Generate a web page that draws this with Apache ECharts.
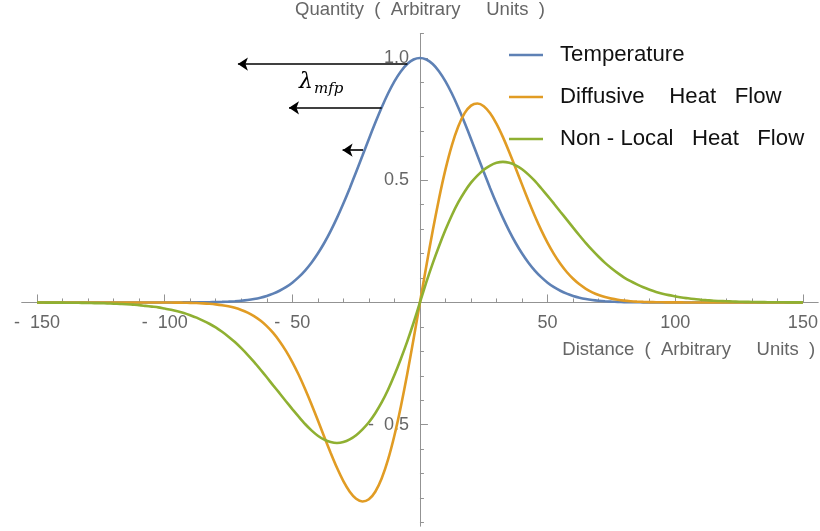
<!DOCTYPE html>
<html>
<head>
<meta charset="utf-8">
<script src="https://cdn.jsdelivr.net/npm/echarts@6/dist/echarts.min.js"></script>
<style>
  html, body { margin: 0; padding: 0; background: #fff; }
  #chart { width: 820px; height: 531px; }
</style>
</head>
<body>
<div id="chart"></div>
<script>
// Sample positions along the distance axis (step 2.5)
const distance = [
  -150, -147.5, -145, -142.5, -140, -137.5, -135, -132.5, -130, -127.5,
  -125, -122.5, -120, -117.5, -115, -112.5, -110, -107.5, -105, -102.5,
  -100, -97.5, -95, -92.5, -90, -87.5, -85, -82.5, -80, -77.5,
  -75, -72.5, -70, -67.5, -65, -62.5, -60, -57.5, -55, -52.5,
  -50, -47.5, -45, -42.5, -40, -37.5, -35, -32.5, -30, -27.5,
  -25, -22.5, -20, -17.5, -15, -12.5, -10, -7.5, -5, -2.5,
  0,
  2.5, 5, 7.5, 10, 12.5, 15, 17.5, 20, 22.5, 25,
  27.5, 30, 32.5, 35, 37.5, 40, 42.5, 45, 47.5, 50,
  52.5, 55, 57.5, 60, 62.5, 65, 67.5, 70, 72.5, 75,
  77.5, 80, 82.5, 85, 87.5, 90, 92.5, 95, 97.5, 100,
  102.5, 105, 107.5, 110, 112.5, 115, 117.5, 120, 122.5, 125,
  127.5, 130, 132.5, 135, 137.5, 140, 142.5, 145, 147.5, 150
];

// Temperature profile
const temperature = [
  0, 0, 0, 0, 0, 0, 0, 0, 0, 0,
  0, 0, 0, 0, 0, 0, 0, 0, 0, 0,
  0, 0.0001, 0.0001, 0.0002, 0.0003, 0.0005, 0.0007, 0.0011, 0.0016, 0.0024,
  0.0035, 0.0051, 0.0073, 0.0103, 0.0143, 0.0197, 0.0268, 0.036, 0.0478, 0.0626,
  0.081, 0.1035, 0.1306, 0.1627, 0.2002, 0.2432, 0.2918, 0.3458, 0.4046, 0.4675,
  0.5335, 0.6011, 0.6689, 0.735, 0.7975, 0.8546, 0.9044, 0.945, 0.9752, 0.9937,
  1.0,
  0.9937, 0.9752, 0.945, 0.9044, 0.8546, 0.7975, 0.735, 0.6689, 0.6011, 0.5335,
  0.4675, 0.4046, 0.3458, 0.2918, 0.2432, 0.2002, 0.1627, 0.1306, 0.1035, 0.081,
  0.0626, 0.0478, 0.036, 0.0268, 0.0197, 0.0143, 0.0103, 0.0073, 0.0051, 0.0035,
  0.0024, 0.0016, 0.0011, 0.0007, 0.0005, 0.0003, 0.0002, 0.0001, 0.0001, 0,
  0, 0, 0, 0, 0, 0, 0, 0, 0, 0,
  0, 0, 0, 0, 0, 0, 0, 0, 0, 0
];

// Local (diffusive) heat flow
const diffusiveFlow = [
  0, 0, 0, 0, 0, 0, 0, 0, 0, 0,
  0, 0, 0, 0, 0, 0, 0, 0, -0.0001, -0.0002,
  -0.0003, -0.0004, -0.0007, -0.001, -0.0016, -0.0024, -0.0036, -0.0053, -0.0077, -0.0111,
  -0.0158, -0.0221, -0.0305, -0.0416, -0.0559, -0.0741, -0.0968, -0.1245, -0.1582, -0.1977,
  -0.2437, -0.2958, -0.3537, -0.416, -0.4819, -0.5488, -0.6146, -0.6763, -0.7305, -0.7737,
  -0.8027, -0.8139, -0.8051, -0.7741, -0.7199, -0.6429, -0.5443, -0.4265, -0.2934, -0.1495,
  0,
  0.1495, 0.2934, 0.4265, 0.5443, 0.6429, 0.7199, 0.7741, 0.8051, 0.8139, 0.8027,
  0.7737, 0.7305, 0.6763, 0.6146, 0.5488, 0.4819, 0.416, 0.3537, 0.2958, 0.2437,
  0.1977, 0.1582, 0.1245, 0.0968, 0.0741, 0.0559, 0.0416, 0.0305, 0.0221, 0.0158,
  0.0111, 0.0077, 0.0053, 0.0036, 0.0024, 0.0016, 0.001, 0.0007, 0.0004, 0.0003,
  0.0002, 0.0001, 0, 0, 0, 0, 0, 0, 0, 0,
  0, 0, 0, 0, 0, 0, 0, 0, 0, 0
];

// Non-local heat flow
const nonLocalFlow = [
  -0.0003, -0.0004, -0.0005, -0.0006, -0.0008, -0.001, -0.0013, -0.0016, -0.002, -0.0025,
  -0.003, -0.004, -0.005, -0.006, -0.007, -0.009, -0.011, -0.014, -0.017, -0.02,
  -0.025, -0.03, -0.036, -0.043, -0.052, -0.062, -0.074, -0.087, -0.102, -0.12,
  -0.14, -0.162, -0.187, -0.214, -0.243, -0.274, -0.306, -0.339, -0.371, -0.404,
  -0.436, -0.467, -0.497, -0.523, -0.545, -0.561, -0.571, -0.575, -0.571, -0.56,
  -0.543, -0.519, -0.49, -0.453, -0.409, -0.357, -0.297, -0.231, -0.16, -0.083,
  0,
  0.083, 0.16, 0.231, 0.297, 0.357, 0.409, 0.453, 0.49, 0.519, 0.543,
  0.56, 0.571, 0.575, 0.571, 0.561, 0.545, 0.523, 0.497, 0.467, 0.436,
  0.404, 0.371, 0.339, 0.306, 0.274, 0.243, 0.214, 0.187, 0.162, 0.14,
  0.12, 0.102, 0.087, 0.074, 0.062, 0.052, 0.043, 0.036, 0.03, 0.025,
  0.02, 0.017, 0.014, 0.011, 0.009, 0.007, 0.006, 0.005, 0.004, 0.003,
  0.0025, 0.002, 0.0016, 0.0013, 0.001, 0.0008, 0.0006, 0.0005, 0.0004, 0.0003
];

const seriesNames = ['Temperature', 'Diffusive    Heat   Flow', 'Non - Local   Heat   Flow'];
const seriesColors = ['#5E81B5', '#E19C24', '#8FB032'];

// Axis ticks and labels
const xMajorTicks = [-150, -100, -50, 0, 50, 100, 150];
const xMinorTicks = [-140, -130, -120, -110, -90, -80, -70, -60, -40, -30, -20, -10,
                     10, 20, 30, 40, 60, 70, 80, 90, 110, 120, 130, 140];
const xTickLabels = [-150, -100, -50, 50, 100, 150];
const yMajorTicks = [-0.5, 0.5, 1.0];
const yMinorTicks = [-0.9, -0.8, -0.7, -0.6, -0.4, -0.3, -0.2, -0.1,
                     0.1, 0.2, 0.3, 0.4, 0.6, 0.7, 0.8, 0.9, 1.1];
const yTickLabels = [-0.5, 0.5, 1.0];

// Mean-free-path arrows: [height, start distance, end distance]
const mfpArrows = [
  [0.975, -4.9, -71.3],
  [0.796, -15.0, -51.3],
  [0.623, -22.3, -30.3]
];

const xRange = [-156, 156];
const yRange = [-0.915, 1.1];

// Plot box
const plot = { left: 21.7, top: 33.5, width: 796.5, height: 492.7 };
// Axes cross at the origin: shift each axis from the grid edge to zero
const zeroY = plot.top + plot.height * yRange[1] / (yRange[1] - yRange[0]);
const zeroX = plot.left + plot.width * (0 - xRange[0]) / (xRange[1] - xRange[0]);
const xAxisOffset = zeroY - (plot.top + plot.height);
const yAxisOffset = -(zeroX - plot.left);

const axisGray = '#939393';
const labelGray = '#666666';
const sansFont = '"Liberation Sans", Arial, sans-serif';

function signedLabel(v, digits) {
  const s = digits ? Math.abs(v).toFixed(digits) : String(Math.abs(v));
  return v < 0 ? '-  ' + s : s;
}

const chart = echarts.init(document.getElementById('chart'), null, { renderer: 'canvas' });

const lineSeries = [temperature, diffusiveFlow, nonLocalFlow].map(function (vals, i) {
  const s = {
    name: seriesNames[i],
    type: 'line',
    xAxisIndex: 0,
    yAxisIndex: 0,
    data: distance.map(function (x, k) { return [x, vals[k]]; }),
    smooth: 0.25,
    symbol: 'none',
    lineStyle: { color: seriesColors[i], width: 2.6 },
    itemStyle: { color: seriesColors[i] },
    emphasis: { disabled: true },
    z: 3 + i
  };
  if (i === 0) {
    s.markLine = {
      silent: true,
      animation: false,
      symbol: ['none', 'arrow'],
      symbolSize: 10,
      label: { show: false },
      lineStyle: { color: '#000', width: 1.6, type: 'solid' },
      emphasis: { disabled: true },
      data: mfpArrows.map(function (a) {
        return [{ coord: [a[1], a[0]] }, { coord: [a[2], a[0]] }];
      })
    };
  }
  return s;
});

const option = {
  animation: false,
  backgroundColor: '#ffffff',
  grid: {
    left: plot.left, top: plot.top, width: plot.width, height: plot.height,
    containLabel: false, outerBoundsMode: 'none'
  },
  legend: {
    orient: 'vertical',
    left: 504,
    top: 39,
    icon: 'rect',
    itemWidth: 34,
    itemHeight: 2.6,
    itemGap: 20,
    selectedMode: false,
    data: seriesNames,
    textStyle: { fontSize: 22.2, color: '#111', fontFamily: sansFont, padding: [0, 0, 0, 12] }
  },
  xAxis: [
    {
      type: 'value',
      min: xRange[0],
      max: xRange[1],
      position: 'bottom',
      offset: xAxisOffset,
      name: 'Distance  (  Arbitrary     Units  )',
      nameLocation: 'end',
      nameGap: -3,
      nameTextStyle: {
        color: labelGray, fontSize: 18.5, fontFamily: sansFont,
        align: 'right', verticalAlign: 'top', padding: [38, 0, 0, 0]
      },
      axisLine: { onZero: false, lineStyle: { color: axisGray, width: 1 } },
      axisTick: { inside: true, length: 8, customValues: xMajorTicks, lineStyle: { color: axisGray } },
      axisLabel: {
        customValues: xTickLabels,
        margin: 12,
        color: labelGray,
        fontSize: 18,
        fontFamily: sansFont,
        formatter: function (v) { return signedLabel(v, 0); }
      },
      splitLine: { show: false }
    },
    {
      type: 'value',
      min: xRange[0],
      max: xRange[1],
      position: 'bottom',
      offset: xAxisOffset,
      axisLine: { show: false, onZero: false },
      axisTick: { inside: true, length: 4, customValues: xMinorTicks, lineStyle: { color: axisGray } },
      axisLabel: { show: false },
      splitLine: { show: false }
    }
  ],
  yAxis: [
    {
      type: 'value',
      min: yRange[0],
      max: yRange[1],
      position: 'left',
      offset: yAxisOffset,
      name: 'Quantity  (  Arbitrary     Units  )',
      nameLocation: 'end',
      nameGap: 14,
      nameTextStyle: { color: labelGray, fontSize: 18.5, fontFamily: sansFont },
      axisLine: { onZero: false, lineStyle: { color: axisGray, width: 1 } },
      axisTick: { inside: true, length: 8, customValues: yMajorTicks, lineStyle: { color: axisGray } },
      axisLabel: {
        customValues: yTickLabels,
        margin: 11,
        color: labelGray,
        fontSize: 18,
        fontFamily: sansFont,
        formatter: function (v) { return signedLabel(v, 1); }
      },
      splitLine: { show: false }
    },
    {
      type: 'value',
      min: yRange[0],
      max: yRange[1],
      position: 'left',
      offset: yAxisOffset,
      axisLine: { show: false, onZero: false },
      axisTick: { inside: true, length: 4, customValues: yMinorTicks, lineStyle: { color: axisGray } },
      axisLabel: { show: false },
      splitLine: { show: false }
    }
  ],
  graphic: [
    {
      type: 'text',
      left: 299,
      top: 71,
      silent: true,
      style: {
        text: '{l|λ}{s|mfp}',
        rich: {
          l: { fontFamily: '"DejaVu Serif", serif', fontStyle: 'italic', fontSize: 22, fill: '#000' },
          s: { fontFamily: '"DejaVu Serif", serif', fontStyle: 'italic', fontSize: 15, fill: '#000', padding: [14, 0, 0, 1] }
        }
      }
    }
  ],
  series: lineSeries
};

chart.setOption(option);
</script>
</body>
</html>
